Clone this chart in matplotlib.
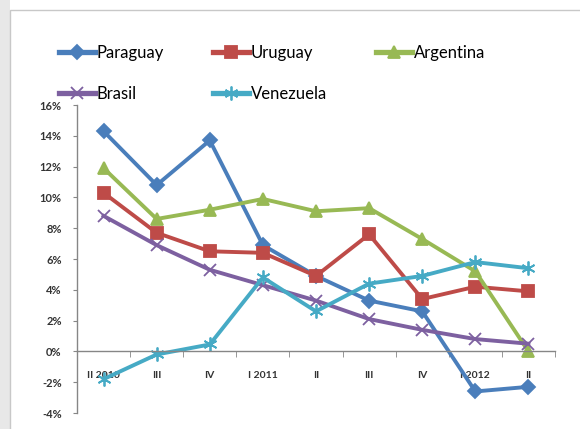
import matplotlib
matplotlib.use("Agg")
import matplotlib.pyplot as plt
from matplotlib.patches import Rectangle
from matplotlib.ticker import FuncFormatter, FixedLocator

plt.rcParams['font.family'] = ['Lato', 'DejaVu Sans']

quarters = ['II 2010', 'III', 'IV', 'I 2011', 'II', 'III', 'IV', 'I 2012', 'II']

paraguay = [14.3, 10.8, 13.7, 6.9, 4.9, 3.3, 2.6, -2.6, -2.3]
uruguay = [10.3, 7.7, 6.5, 6.4, 4.9, 7.6, 3.4, 4.2, 3.9]
argentina = [11.9, 8.6, 9.2, 9.9, 9.1, 9.3, 7.3, 5.2, 0.0]
brasil = [8.8, 6.9, 5.3, 4.3, 3.3, 2.1, 1.4, 0.8, 0.5]
venezuela = [-1.8, -0.2, 0.45, 4.8, 2.6, 4.4, 4.9, 5.8, 5.4]

fig = plt.figure(figsize=(5.8, 4.29), dpi=100)

# chart area frame with a soft shadow on the left
fig.patches.append(Rectangle((0, 0), 10 / 580, 1, transform=fig.transFigure,
                             facecolor='#e8e8e8', edgecolor='none', zorder=-10))
fig.patches.append(Rectangle((10 / 580, -0.1), 1.0, 1 - 10 / 429 + 0.1,
                             transform=fig.transFigure, facecolor='white',
                             edgecolor='#c8c8c8', lw=1, zorder=-9))

ax = fig.add_axes([77 / 580, 1 - 413 / 429, (555 - 77) / 580, (413 - 105) / 429])
ax.set_facecolor('none')

x = list(range(len(quarters)))
series = [
    ('Paraguay', paraguay, '#4a7ebb', 'D', 7),
    ('Uruguay', uruguay, '#be4b48', 's', 9),
    ('Argentina', argentina, '#98b954', '^', 9),
    ('Brasil', brasil, '#7d60a0', 'x', 8),
    ('Venezuela', venezuela, '#46aac5', (6, 2, 0), 10),
]
lines = {}
for name, vals, col, mk, ms in series:
    ln, = ax.plot(x, vals, color=col, lw=2.8, marker=mk, markersize=ms,
                  markeredgecolor=col, markerfacecolor=col, markeredgewidth=1.3,
                  label=name, clip_on=False)
    lines[name] = ln

ax.set_xlim(-0.5, len(quarters) - 0.5)
ax.set_ylim(-4, 16)
ax.yaxis.set_major_locator(FixedLocator(range(-4, 17, 2)))
ax.yaxis.set_major_formatter(FuncFormatter(lambda v, p: f'{int(v)}%'))

ax.spines['top'].set_visible(False)
ax.spines['right'].set_visible(False)
ax.spines['bottom'].set_position(('data', 0))
for s in ('left', 'bottom'):
    ax.spines[s].set_color('#868686')
    ax.spines[s].set_linewidth(1)

ax.set_xticks([i - 0.5 for i in range(len(quarters) + 1)], minor=True)
ax.set_xticks(x)
ax.set_xticklabels(quarters)
ax.tick_params(axis='x', which='major', length=0, pad=14, labelsize=7.5, labelcolor='#333333')
ax.tick_params(axis='x', which='minor', length=4, color='#868686', direction='out')
ax.tick_params(axis='y', length=3, color='#868686', labelsize=8, labelcolor='#333333', pad=8)
for lab in ax.get_xticklabels() + ax.get_yticklabels():
    lab.set_fontweight('bold')

order = ['Paraguay', 'Brasil', 'Uruguay', 'Venezuela', 'Argentina']
leg = fig.legend([lines[n] for n in order], order, loc='upper left',
                 bbox_to_anchor=(52 / 580, 1 - 38 / 429), ncol=3, frameon=False,
                 fontsize=12, handlelength=2.2, handletextpad=0.1,
                 columnspacing=2.9, labelspacing=1.5, borderaxespad=0)
for h in leg.legend_handles:
    h.set_linewidth(3.8)

fig.savefig('out.png', dpi=100)
